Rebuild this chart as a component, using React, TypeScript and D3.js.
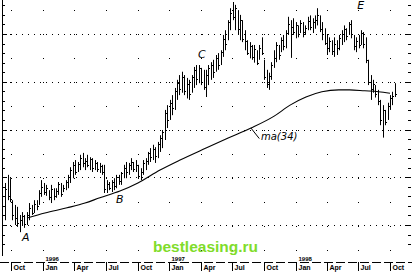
import React from "react";
import * as d3 from "d3";

// Weekly HLC bars (price units), first week starting mid-Sep 1995
const highs = [28.8,30.5,29.8,25.2,24.2,23.8,22.1,22.7,22.1,22.7,24.6,24.2,25.2,25.2,27.3,29.4,28.8,28.4,27.3,28.4,27.7,27.7,29.0,28.8,28.4,29.4,30.5,32.1,33.2,33.6,33.2,34.7,35.1,34.0,34.7,34.2,34.0,33.6,33.2,33.0,32.6,32.6,29.4,29.0,29.4,29.8,30.5,30.5,31.1,32.6,33.2,33.0,34.0,33.2,33.6,32.6,31.9,33.6,34.0,35.3,36.1,36.8,36.3,37.4,38.8,39.9,44.1,45.1,46.2,47.2,48.7,50.4,51.4,52.1,51.4,50.8,50.4,51.4,53.1,53.5,53.5,52.9,52.5,52.5,53.5,54.1,54.6,55.6,56.0,56.6,59.8,60.8,62.9,65.4,66.7,66.1,65.0,64.0,62.9,60.8,58.7,58.3,57.7,57.7,56.6,57.7,59.3,54.6,52.5,51.9,54.1,56.6,58.3,57.7,59.3,59.8,60.8,63.6,62.9,63.3,62.5,61.8,62.9,62.5,61.8,63.6,63.9,63.3,63.9,65.4,63.9,62.5,61.2,59.8,59.3,58.7,59.3,58.7,59.8,60.8,61.8,61.2,62.5,62.9,59.8,59.3,59.8,60.8,60.4,59.3,54.6,51.4,50.4,49.3,48.3,46.2,45.1,44.1,45.6,47.2,47.9,49.7];
const lows = [21.0,25.2,24.8,21.0,20.0,19.6,18.5,19.8,19.4,20.0,21.0,22.1,22.5,23.1,24.2,25.9,26.3,26.1,25.2,24.6,25.2,25.7,26.3,25.9,26.9,27.3,27.7,28.8,29.8,30.5,31.1,31.5,32.1,31.5,32.1,31.5,31.1,31.5,31.1,30.9,30.5,26.7,26.7,27.3,26.9,27.3,27.7,28.4,28.4,29.8,29.8,30.5,31.5,31.1,31.1,29.8,29.4,30.5,31.5,32.6,33.2,33.6,33.0,34.0,35.3,36.1,37.8,40.3,42.0,43.0,44.1,46.2,47.2,47.7,47.2,46.5,46.2,47.7,48.7,49.3,49.7,49.3,48.3,46.8,49.3,50.4,50.8,52.1,52.5,53.5,55.2,56.6,58.7,60.8,62.9,60.8,59.8,58.7,58.3,56.6,55.6,54.9,54.6,54.0,53.5,54.6,55.6,50.4,48.7,48.3,50.4,52.9,54.1,54.6,56.2,56.6,57.0,59.8,55.0,59.8,59.1,59.3,60.2,59.3,59.8,60.8,60.8,60.2,61.1,61.8,60.4,58.7,57.7,55.6,56.2,55.6,55.2,55.6,56.6,57.7,58.3,58.7,59.8,59.1,56.6,56.2,57.0,57.7,57.0,53.9,49.3,46.2,47.7,46.7,45.1,40.9,38.3,40.9,42.0,44.1,45.1,46.8];
const closes = [27.5,26.0,25.5,22.0,21.5,20.5,21.0,21.8,20.2,22.0,23.5,22.6,24.5,24.0,26.8,28.0,27.0,27.8,25.8,27.5,26.0,27.2,28.5,26.5,27.8,29.0,30.0,31.5,32.5,31.2,32.8,34.0,33.0,33.5,32.6,33.8,32.0,33.0,31.8,32.4,31.0,27.5,28.6,27.8,29.0,28.2,30.0,29.2,30.8,32.0,31.0,32.6,33.2,31.8,32.5,30.2,31.0,33.0,33.5,35.0,34.2,36.0,34.5,37.0,38.2,39.5,43.5,42.0,45.5,44.5,48.0,49.8,48.5,51.0,48.0,49.5,47.5,51.0,52.5,50.5,52.8,50.0,49.0,51.5,52.8,53.5,52.0,55.0,53.5,56.2,59.0,58.0,62.5,64.5,63.5,65.5,61.0,63.0,59.0,58.5,56.0,57.5,55.2,56.8,54.0,57.0,56.0,51.0,49.5,51.2,53.5,55.0,57.8,55.5,58.8,57.5,60.2,62.0,61.5,60.5,61.8,60.0,62.2,60.5,61.2,62.8,61.5,62.6,63.0,64.0,61.0,60.0,58.2,57.0,58.5,56.5,58.0,57.0,59.2,60.0,61.0,59.5,62.0,60.0,57.5,58.5,57.8,60.2,58.0,54.5,50.0,48.5,49.5,47.5,46.0,42.0,44.0,41.5,45.0,46.5,47.0,47.5];
const firstWeek = new Date(1995, 8, 14);

// 34-period moving average as drawn
const maDates = ["1995-11-19","1996-01-07","1996-03-11","1996-05-02","1996-06-14","1996-08-11","1996-10-02","1996-12-05","1997-02-01","1997-04-17","1997-06-20","1997-08-25","1997-10-31","1997-12-16","1998-01-31","1998-03-18","1998-05-06","1998-06-06","1998-07-20","1998-08-29","1998-10-01"];
const maValues = [21.5,22.5,23.6,24.6,25.7,27.1,28.8,31.5,33.6,36.1,38.2,40.3,42.8,45.1,46.8,47.9,48.3,48.3,48.1,47.9,47.6];

const gridPrices = [20, 30, 40, 50, 60];
const noteLabels = ["A", "B", "C", "E", "ma(34)"];
const noteDates = ["1995-11-02", "1996-07-31", "1997-03-25", "1998-06-28", "1997-09-23"];
const notePrices = [16.6, 24.6, 55.0, 65.2, 37.8];

const W = 412, H = 278;

export default function App() {
  const x = d3.scaleTime().domain([new Date(1995, 9, 1), new Date(1998, 9, 1)]).range([11, 390]);
  const y = d3.scaleLinear().domain([20, 60]).range([225, 34]);
  const px = (d: Date) => Math.round(x(d)) + 0.5;
  const py = (v: number) => Math.round(y(v)) + 0.5;

  const dates = highs.map((_, i) => d3.timeWeek.offset(firstWeek, i));
  const quarters = x.ticks(d3.timeMonth.every(3));
  const fmtM = d3.timeFormat("%b");
  const parse = d3.timeParse("%Y-%m-%d");

  const maLine = d3.line<number>()
    .x((_, i) => x(parse(maDates[i])!))
    .y((v) => y(v))
    .curve(d3.curveMonotoneX);

  const minorTicks = d3.range(16, 68, 2);

  const arrowStart = [x(parse("1997-08-25")!), y(40.3)];
  const arrowEnd = [x(parse("1997-09-18")!), y(38.1)];

  return (
    <svg width={W} height={H} style={{ position: "absolute", left: 0, top: 0, background: "#fff" }}>
      <rect width={W} height={H} fill="#fff" />
      {gridPrices.map((p) => (
        <line key={p} x1={4} x2={408} y1={py(p)} y2={py(p)} stroke="#000" strokeWidth={1} strokeDasharray="1,5" />
      ))}
      {quarters.map((q, i) => (
        <line key={i} x1={px(q)} x2={px(q)} y1={10} y2={255} stroke="#000" strokeWidth={1} strokeDasharray="1,23" />
      ))}
      <line x1={2.5} x2={2.5} y1={0} y2={256} stroke="#000" />
      {minorTicks.map((t) => (
        <line key={"l" + t} x1={2} x2={t % 10 === 0 ? 7 : 5} y1={py(t)} y2={py(t)} stroke="#000" />
      ))}
      {minorTicks.map((t) => (
        <line key={"r" + t} x1={t % 10 === 0 ? 405 : 408} x2={411} y1={py(t)} y2={py(t)} stroke="#000" />
      ))}
      {dates.map((d, i) => (
        <g key={i}>
          <line x1={px(d)} x2={px(d)} y1={y(highs[i])} y2={y(lows[i])} stroke="#000" strokeWidth={1} />
          <line x1={px(d)} x2={px(d) + 1.5} y1={py(closes[i])} y2={py(closes[i])} stroke="#000" strokeWidth={1} />
        </g>
      ))}
      <path d={maLine(maValues) || ""} fill="none" stroke="#000" strokeWidth={1.1} />
      <line x1={arrowStart[0]} y1={arrowStart[1]} x2={arrowEnd[0]} y2={arrowEnd[1]} stroke="#000" strokeWidth={1} />
      {noteLabels.map((t, i) => (
        <text key={t} x={x(parse(noteDates[i])!)} y={y(notePrices[i])}
          fontFamily="DejaVu Sans" fontSize={t.length > 1 ? 10 : 11} fontStyle="italic" fill="#000">{t}</text>
      ))}
      <text x={153} y={252} fontFamily="Liberation Sans, Arial" fontWeight="bold" fontSize={15.5} fill="#80dc2a">bestleasing.ru</text>
      <line x1={0} x2={412} y1={262.5} y2={262.5} stroke="#000" strokeDasharray="9,3" />
      {quarters.map((q, i) => (
        <g key={"q" + i}>
          <line x1={px(q)} x2={px(q)} y1={262} y2={271} stroke="#000" />
          <text x={px(q) + 2} y={270} fontFamily="Liberation Sans, Arial" fontWeight="bold" fontSize={7} fill="#000">{fmtM(q)}</text>
          {q.getMonth() === 0 && (
            <text x={px(q) + 2} y={261} fontFamily="Liberation Sans, Arial" fontWeight="bold" fontSize={6} fill="#000">{d3.timeFormat("%Y")(q)}</text>
          )}
        </g>
      ))}
    </svg>
  );
}
